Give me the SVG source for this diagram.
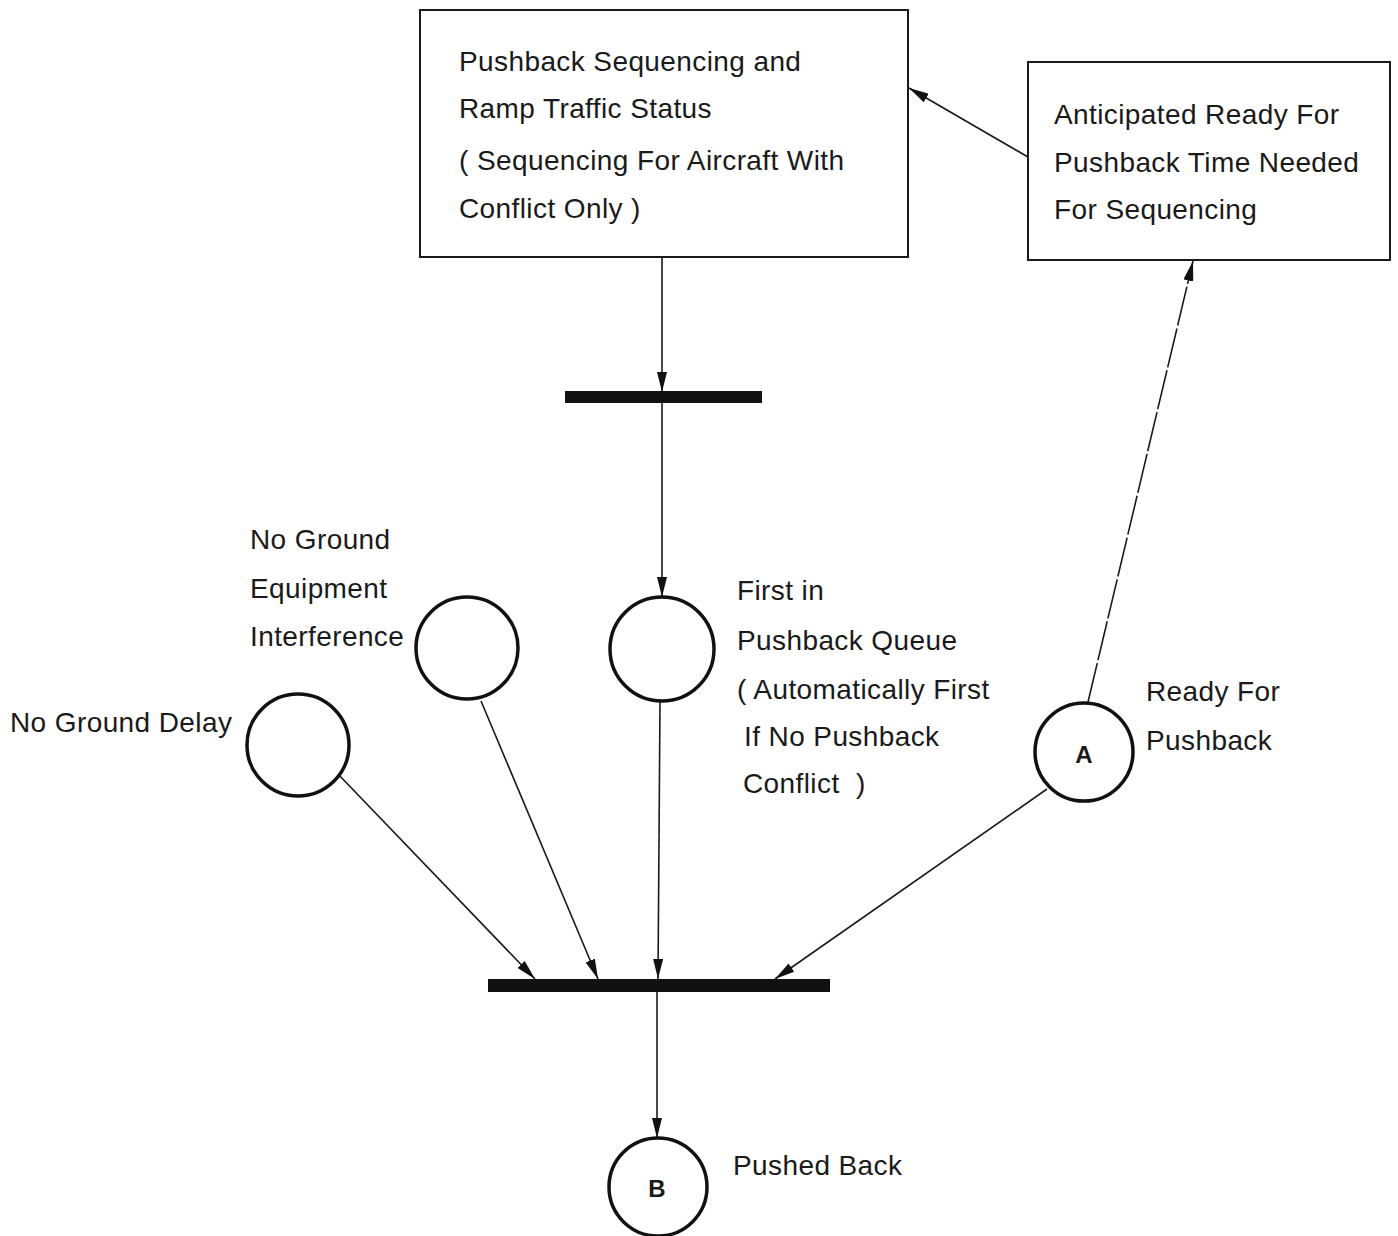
<svg xmlns="http://www.w3.org/2000/svg" width="1398" height="1236" viewBox="0 0 1398 1236">
<style>
text{font-family:"Liberation Sans",Arial,sans-serif;font-size:28px;letter-spacing:0.4px;fill:#1a1a1a;white-space:pre}
.box{fill:#fff;stroke:#1a1a1a;stroke-width:2}
.place{fill:#fff;stroke:#111;stroke-width:3.5}
.bar{fill:#111}
.c{stroke:#1a1a1a;stroke-width:1.6;fill:none}
.lbl{font-weight:bold;font-size:24px;letter-spacing:0;text-anchor:middle}
</style>
<defs>
<marker id="ah" viewBox="0 0 20 10" refX="20" refY="5" markerWidth="20" markerHeight="10" markerUnits="userSpaceOnUse" orient="auto">
<path d="M0,0 L20,5 L0,10 z" fill="#111"/>
</marker>
</defs>
<g id="connectors">
<line class="c" x1="662" y1="257" x2="662" y2="392" marker-end="url(#ah)"/>
<line class="c" x1="662" y1="403" x2="662" y2="597" marker-end="url(#ah)"/>
<line class="c" x1="660" y1="701" x2="658" y2="979" marker-end="url(#ah)"/>
<line class="c" x1="337" y1="773" x2="535" y2="979" marker-end="url(#ah)"/>
<line class="c" x1="481" y1="701" x2="598" y2="979" marker-end="url(#ah)"/>
<line class="c" x1="1047" y1="789" x2="775" y2="979" marker-end="url(#ah)"/>
<line class="c" x1="657" y1="992" x2="657" y2="1138" marker-end="url(#ah)"/>
<line class="c" x1="1088" y1="702" x2="1193" y2="261" stroke-dasharray="40 3" marker-end="url(#ah)"/>
<line class="c" x1="1028" y1="157" x2="909" y2="88" marker-end="url(#ah)"/>
</g>
<g id="box-sequencing">
<rect class="box" x="420" y="10" width="488" height="247"/>
<text x="459" y="71">Pushback Sequencing and</text>
<text x="459" y="118">Ramp Traffic Status</text>
<text x="459" y="170">( Sequencing For Aircraft With</text>
<text x="459" y="218">Conflict Only )</text>
</g>
<g id="box-anticipated">
<rect class="box" x="1028" y="62" width="362" height="198"/>
<text x="1054" y="124">Anticipated Ready For</text>
<text x="1054" y="172">Pushback Time Needed</text>
<text x="1054" y="219">For Sequencing</text>
</g>
<g id="bar-top">
<rect class="bar" x="565" y="391" width="197" height="12"/>
</g>
<g id="bar-bottom">
<rect class="bar" x="488" y="979" width="342" height="13"/>
</g>
<g id="place-interference">
<circle class="place" cx="467" cy="648" r="51"/>
<text x="250" y="549">No Ground</text>
<text x="250" y="598">Equipment</text>
<text x="250" y="646">Interference</text>
</g>
<g id="place-first">
<circle class="place" cx="662" cy="649" r="52"/>
<text x="737" y="600">First in</text>
<text x="737" y="650">Pushback Queue</text>
<text x="737" y="699">( Automatically First</text>
<text x="744" y="746">If No Pushback</text>
<text x="743" y="793">Conflict  )</text>
</g>
<g id="place-delay">
<circle class="place" cx="298" cy="745" r="51"/>
<text x="10" y="732">No Ground Delay</text>
</g>
<g id="place-A">
<circle class="place" cx="1084" cy="752" r="49"/>
<text class="lbl" x="1084" y="763">A</text>
<text x="1146" y="701">Ready For</text>
<text x="1146" y="750">Pushback</text>
</g>
<g id="place-B">
<circle class="place" cx="658" cy="1187" r="49"/>
<text class="lbl" x="657" y="1197">B</text>
<text x="733" y="1175">Pushed Back</text>
</g>
</svg>
